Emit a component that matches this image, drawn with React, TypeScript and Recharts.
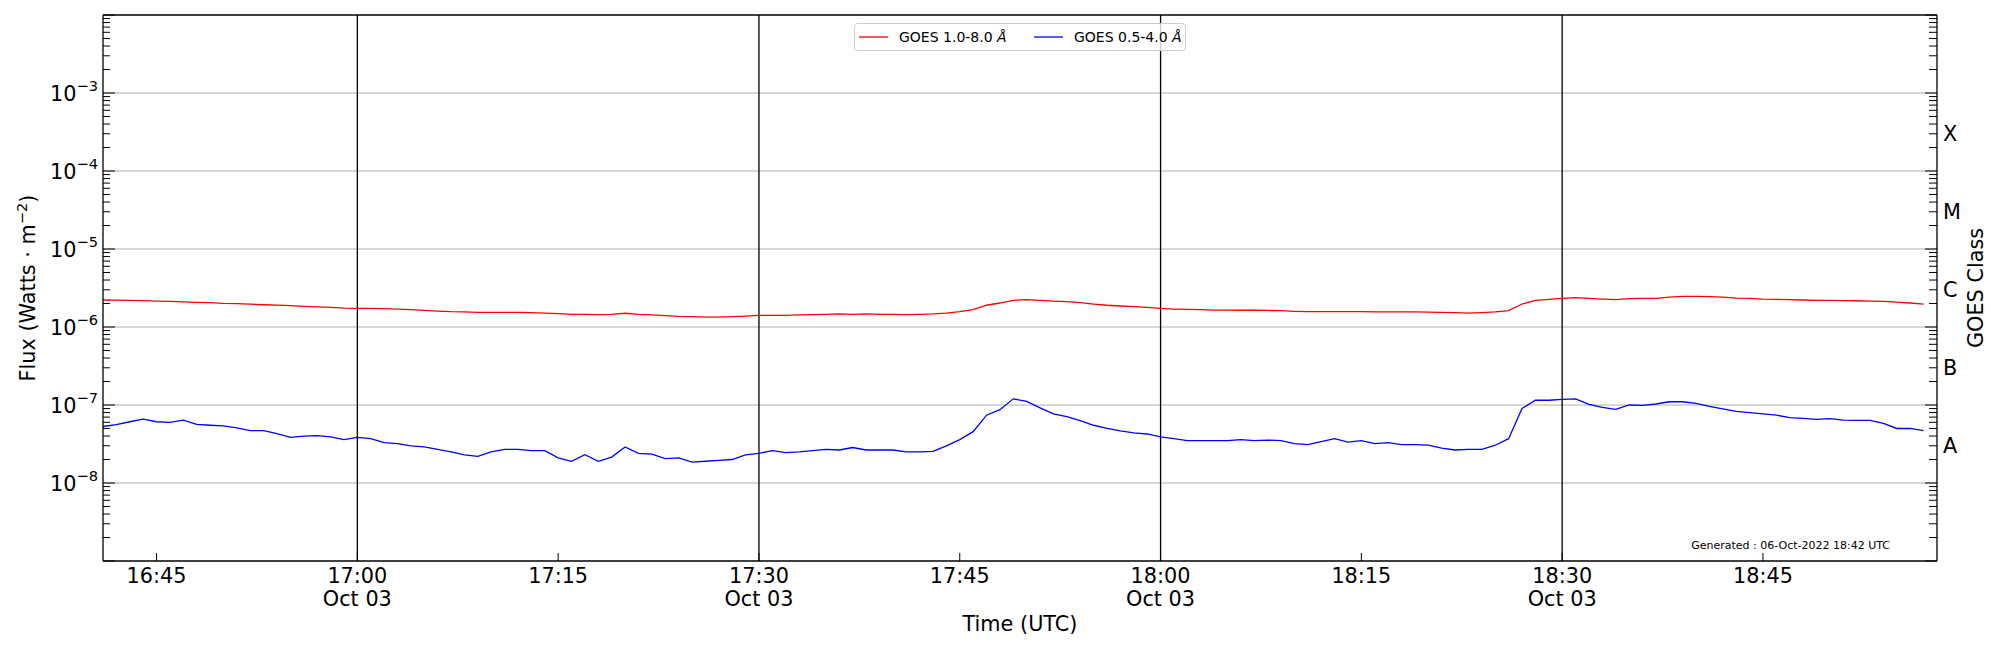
import { LineChart, Line, XAxis, YAxis, ReferenceLine, Legend } from "recharts"

// one reading per minute, Oct 03
const timeLabels = [
  "16:41", "16:42", "16:43", "16:44", "16:45", "16:46", "16:47", "16:48", "16:49", "16:50",
  "16:51", "16:52", "16:53", "16:54", "16:55", "16:56", "16:57", "16:58", "16:59",
  "17:00", "17:01", "17:02", "17:03", "17:04", "17:05", "17:06", "17:07", "17:08", "17:09",
  "17:10", "17:11", "17:12", "17:13", "17:14", "17:15", "17:16", "17:17", "17:18", "17:19",
  "17:20", "17:21", "17:22", "17:23", "17:24", "17:25", "17:26", "17:27", "17:28", "17:29",
  "17:30", "17:31", "17:32", "17:33", "17:34", "17:35", "17:36", "17:37", "17:38", "17:39",
  "17:40", "17:41", "17:42", "17:43", "17:44", "17:45", "17:46", "17:47", "17:48", "17:49",
  "17:50", "17:51", "17:52", "17:53", "17:54", "17:55", "17:56", "17:57", "17:58", "17:59",
  "18:00", "18:01", "18:02", "18:03", "18:04", "18:05", "18:06", "18:07", "18:08", "18:09",
  "18:10", "18:11", "18:12", "18:13", "18:14", "18:15", "18:16", "18:17", "18:18", "18:19",
  "18:20", "18:21", "18:22", "18:23", "18:24", "18:25", "18:26", "18:27", "18:28", "18:29",
  "18:30", "18:31", "18:32", "18:33", "18:34", "18:35", "18:36", "18:37", "18:38", "18:39",
  "18:40", "18:41", "18:42", "18:43", "18:44", "18:45", "18:46", "18:47", "18:48", "18:49",
  "18:50", "18:51", "18:52", "18:53", "18:54", "18:55", "18:56", "18:57",
]

// GOES 1.0-8.0 Å
const xrsLong = [
  2.22e-6, 2.21e-6, 2.2e-6, 2.18e-6, 2.15e-6, 2.13e-6, 2.1e-6, 2.07e-6, 2.05e-6, 2.01e-6,
  1.99e-6, 1.96e-6, 1.93e-6, 1.91e-6, 1.88e-6, 1.84e-6, 1.81e-6, 1.79e-6, 1.75e-6, 1.73e-6,
  1.73e-6, 1.72e-6, 1.7e-6, 1.67e-6, 1.63e-6, 1.6e-6, 1.57e-6, 1.56e-6, 1.54e-6,
  1.54e-6, 1.54e-6, 1.54e-6, 1.53e-6, 1.51e-6, 1.48e-6, 1.45e-6, 1.45e-6, 1.44e-6, 1.45e-6,
  1.5e-6, 1.45e-6, 1.43e-6, 1.4e-6, 1.37e-6, 1.36e-6, 1.34e-6, 1.34e-6, 1.36e-6, 1.38e-6,
  1.41e-6, 1.41e-6, 1.41e-6, 1.43e-6, 1.44e-6, 1.45e-6, 1.47e-6,
  1.45e-6, 1.47e-6, 1.45e-6, 1.45e-6, 1.44e-6, 1.45e-6, 1.47e-6, 1.51e-6, 1.57e-6, 1.67e-6,
  1.9e-6, 2.03e-6, 2.2e-6, 2.24e-6, 2.2e-6, 2.15e-6, 2.11e-6, 2.05e-6, 1.97e-6, 1.9e-6,
  1.86e-6, 1.82e-6, 1.79e-6, 1.73e-6, 1.7e-6, 1.68e-6, 1.67e-6, 1.65e-6,
  1.65e-6, 1.64e-6, 1.64e-6, 1.63e-6, 1.62e-6, 1.59e-6, 1.57e-6, 1.57e-6, 1.57e-6, 1.57e-6,
  1.57e-6, 1.56e-6, 1.56e-6, 1.56e-6, 1.56e-6, 1.55e-6, 1.54e-6, 1.53e-6, 1.51e-6, 1.53e-6,
  1.56e-6, 1.62e-6, 1.97e-6, 2.2e-6, 2.26e-6, 2.33e-6, 2.38e-6, 2.33e-6,
  2.28e-6, 2.24e-6, 2.31e-6, 2.33e-6, 2.33e-6, 2.41e-6, 2.47e-6, 2.47e-6, 2.45e-6, 2.41e-6,
  2.35e-6, 2.33e-6, 2.28e-6, 2.26e-6, 2.24e-6, 2.22e-6, 2.2e-6, 2.19e-6, 2.18e-6, 2.17e-6,
  2.15e-6, 2.13e-6, 2.08e-6, 2.03e-6, 1.97e-6,
]

// GOES 0.5-4.0 Å
const xrsShort = [
  5.3e-8, 5.6e-8, 6.1e-8, 6.6e-8, 6.1e-8, 6.0e-8, 6.4e-8, 5.65e-8, 5.5e-8, 5.4e-8,
  5.1e-8, 4.7e-8, 4.7e-8, 4.3e-8, 3.85e-8, 4.0e-8, 4.05e-8, 3.9e-8, 3.6e-8, 3.85e-8,
  3.7e-8, 3.3e-8, 3.2e-8, 3.0e-8, 2.9e-8, 2.7e-8, 2.5e-8, 2.3e-8, 2.2e-8,
  2.5e-8, 2.7e-8, 2.7e-8, 2.6e-8, 2.6e-8, 2.1e-8, 1.9e-8, 2.3e-8, 1.9e-8, 2.15e-8,
  2.9e-8, 2.4e-8, 2.35e-8, 2.05e-8, 2.1e-8, 1.85e-8, 1.9e-8, 1.95e-8, 2.0e-8, 2.3e-8,
  2.4e-8, 2.6e-8, 2.45e-8, 2.5e-8, 2.6e-8, 2.7e-8, 2.65e-8,
  2.85e-8, 2.65e-8, 2.65e-8, 2.65e-8, 2.5e-8, 2.5e-8, 2.55e-8, 3.0e-8, 3.6e-8, 4.55e-8,
  7.4e-8, 8.7e-8, 1.2e-7, 1.11e-7, 9.2e-8, 7.7e-8, 7.1e-8, 6.3e-8, 5.5e-8, 5.0e-8,
  4.65e-8, 4.4e-8, 4.25e-8, 3.9e-8, 3.7e-8, 3.5e-8, 3.5e-8, 3.5e-8,
  3.5e-8, 3.6e-8, 3.5e-8, 3.55e-8, 3.5e-8, 3.2e-8, 3.1e-8, 3.4e-8, 3.7e-8, 3.35e-8,
  3.5e-8, 3.2e-8, 3.3e-8, 3.1e-8, 3.1e-8, 3.05e-8, 2.8e-8, 2.65e-8, 2.7e-8, 2.7e-8,
  3.05e-8, 3.7e-8, 9.0e-8, 1.15e-7, 1.15e-7, 1.18e-7, 1.2e-7, 1.02e-7,
  9.3e-8, 8.8e-8, 1.0e-7, 9.9e-8, 1.03e-7, 1.1e-7, 1.1e-7, 1.05e-7, 9.6e-8, 8.9e-8,
  8.3e-8, 8.0e-8, 7.7e-8, 7.4e-8, 6.9e-8, 6.75e-8, 6.55e-8, 6.7e-8, 6.4e-8, 6.35e-8,
  6.35e-8, 5.8e-8, 5.0e-8, 5.0e-8, 4.7e-8,
]

const timeRange = ["16:41", "18:58"]
const tickTimes = ["16:45", "17:00", "17:15", "17:30", "17:45", "18:00", "18:15", "18:30", "18:45"]
const hourLines = ["17:00", "17:30", "18:00", "18:30"]
const dateLabel = "Oct 03"

const fluxRange = [1e-9, 1e-2]
const labeledDecades = [1e-8, 1e-7, 1e-6, 1e-5, 1e-4, 1e-3]
const goesClasses = ["A", "B", "C", "M", "X"]
const classCenters = [3.162e-8, 3.162e-7, 3.162e-6, 3.162e-5, 3.162e-4]

const generatedNote = "Generated : 06-Oct-2022 18:42 UTC"

const FONT = "DejaVu Sans"
const BIG = 20.8
const SUP = 14.6

const toMinutes = (s: string) => {
  const [h, m] = s.split(":").map(Number)
  return h * 60 + m
}
const fmtTime = (v: number) =>
  `${String(Math.floor(v / 60)).padStart(2, "0")}:${String(v % 60).padStart(2, "0")}`

const rows = timeLabels.map((t, i) => ({ t: toMinutes(t), long: xrsLong[i], short: xrsShort[i] }))

// log ticks: decades plus 2..9 minors
const logTicks: number[] = []
for (let e = -9; e <= -2; e++) {
  for (let k = 1; k <= 9; k++) {
    const v = k * Math.pow(10, e)
    if (v <= 1e-2 * 1.0001) logTicks.push(v)
  }
}

const isDecade = (v: number) => Math.abs(Math.log10(v) - Math.round(Math.log10(v))) < 1e-6

const TimeTick = ({ x, y, payload }: any) => {
  const label = fmtTime(payload.value)
  const withDate = hourLines.includes(label)
  return (
    <g>
      <line x1={x} x2={x} y1={y} y2={y - 8} stroke="#000" strokeWidth={1} />
      <text x={x} y={y + 22} textAnchor="middle" fontSize={BIG} fontFamily={FONT} fill="#000">
        {label}
      </text>
      {withDate && (
        <text x={x} y={y + 45} textAnchor="middle" fontSize={BIG} fontFamily={FONT} fill="#000">
          {dateLabel}
        </text>
      )}
    </g>
  )
}

const FluxTick = ({ x, y, payload }: any) => {
  const v = payload.value
  const major = isDecade(v)
  const e = Math.round(Math.log10(v))
  const labeled = major && labeledDecades.some((d) => Math.round(Math.log10(d)) === e)
  return (
    <g>
      <line x1={x} x2={x + (major ? 12 : 7)} y1={y} y2={y} stroke="#000" strokeWidth={1} />
      {labeled && (
        <text x={x - 5} y={y + 8} textAnchor="end" fontSize={BIG} fontFamily={FONT} fill="#000">
          10
          <tspan dy={-10} fontSize={SUP}>
            {"\u2212" + Math.abs(e)}
          </tspan>
        </text>
      )}
    </g>
  )
}

const ClassTick = ({ x, y, payload }: any) => {
  const v = payload.value
  const idx = classCenters.findIndex((c) => Math.abs(Math.log10(c) - Math.log10(v)) < 0.01)
  if (idx >= 0) {
    return (
      <text x={x + 6} y={y + 9} fontSize={BIG} fontFamily={FONT} fill="#000">
        {goesClasses[idx]}
      </text>
    )
  }
  const major = isDecade(v)
  return <line x1={x} x2={x - (major ? 12 : 8)} y1={y} y2={y} stroke="#000" strokeWidth={1} />
}

const LegendBox = () => (
  <svg width={333} height={29} style={{ display: "block" }}>
    <rect x={0.5} y={0.5} width={331} height={27} rx={3} fill="#fff" fillOpacity={0.8} stroke="#cccccc" />
    <line x1={5} x2={34} y1={14} y2={14} stroke="#ff0000" strokeWidth={1.3} />
    <text x={45} y={19} fontSize={14} fontFamily={FONT} fill="#000">
      GOES 1.0-8.0 <tspan fontStyle="italic">Å</tspan>
    </text>
    <line x1={180} x2={209} y1={14} y2={14} stroke="#0000ff" strokeWidth={1.3} />
    <text x={220} y={19} fontSize={14} fontFamily={FONT} fill="#000">
      GOES 0.5-4.0 <tspan fontStyle="italic">Å</tspan>
    </text>
  </svg>
)

export default function App() {
  return (
    <div
      style={{ position: "absolute", left: 0, top: 0, width: 2000, height: 650, background: "#fff", fontFamily: FONT }}
    >
      <LineChart width={2000} height={650} data={rows} margin={{ top: 15, right: 3, bottom: 29, left: 23 }}>
        <XAxis
          dataKey="t"
          type="number"
          domain={timeRange.map(toMinutes)}
          allowDataOverflow
          ticks={tickTimes.map(toMinutes)}
          interval={0}
          tickSize={0}
          tickMargin={0}
          tickLine={false}
          tick={<TimeTick />}
          height={60}
          axisLine={{ stroke: "#000", strokeWidth: 1.3 }}
          label={({ viewBox }: any) => (
            <text
              x={viewBox.x + viewBox.width / 2}
              y={viewBox.y + 70}
              textAnchor="middle"
              fontSize={BIG}
              fontFamily={FONT}
              fill="#000"
            >
              Time (UTC)
            </text>
          )}
        />
        <YAxis
          yAxisId="left"
          type="number"
          scale="log"
          domain={fluxRange}
          allowDataOverflow
          ticks={logTicks}
          interval={0}
          tickSize={0}
          tickMargin={0}
          tickLine={false}
          tick={<FluxTick />}
          width={80}
          axisLine={{ stroke: "#000", strokeWidth: 1.3 }}
          label={({ viewBox }: any) => (
            <text
              transform={`translate(${viewBox.x + 12}, ${viewBox.y + viewBox.height / 2}) rotate(-90)`}
              textAnchor="middle"
              fontSize={BIG}
              fontFamily={FONT}
              fill="#000"
            >
              Flux (Watts · m
              <tspan dy={-8} fontSize={SUP}>
                −2
              </tspan>
              <tspan dy={8}>)</tspan>
            </text>
          )}
        />
        <YAxis
          yAxisId="right"
          orientation="right"
          type="number"
          scale="log"
          domain={fluxRange}
          allowDataOverflow
          ticks={[...logTicks, ...classCenters]}
          interval={0}
          tickSize={0}
          tickMargin={0}
          tickLine={false}
          tick={<ClassTick />}
          width={60}
          axisLine={{ stroke: "#000", strokeWidth: 1.3 }}
          label={({ viewBox }: any) => (
            <text
              transform={`translate(${viewBox.x + 46}, ${viewBox.y + viewBox.height / 2}) rotate(-90)`}
              textAnchor="middle"
              fontSize={BIG}
              fontFamily={FONT}
              fill="#000"
            >
              GOES Class
            </text>
          )}
        />
        {labeledDecades.map((d) => (
          <ReferenceLine key={d} yAxisId="left" y={d} stroke="#b0b0b0" strokeWidth={1} />
        ))}
        {hourLines.map((h) => (
          <ReferenceLine key={h} yAxisId="left" x={toMinutes(h)} stroke="#000" strokeWidth={1.3} />
        ))}
        <ReferenceLine yAxisId="left" y={fluxRange[1]} stroke="#000" strokeWidth={1.3} ifOverflow="visible" />
        <Line
          yAxisId="left"
          dataKey="long"
          name="GOES 1.0-8.0 Å"
          stroke="#ff0000"
          strokeWidth={1.3}
          dot={false}
          activeDot={false}
          type="linear"
          isAnimationActive={false}
        />
        <Line
          yAxisId="left"
          dataKey="short"
          name="GOES 0.5-4.0 Å"
          stroke="#0000ff"
          strokeWidth={1.3}
          dot={false}
          activeDot={false}
          type="linear"
          isAnimationActive={false}
        />
        <Legend
          layout="horizontal"
          verticalAlign="middle"
          align="center"
          content={<LegendBox />}
          wrapperStyle={{ left: 854, top: 23, width: 333, height: 29 }}
        />
        <text x={1890} y={549} textAnchor="end" fontSize={11} fontFamily={FONT} fill="#000">
          {generatedNote}
        </text>
      </LineChart>
    </div>
  )
}
